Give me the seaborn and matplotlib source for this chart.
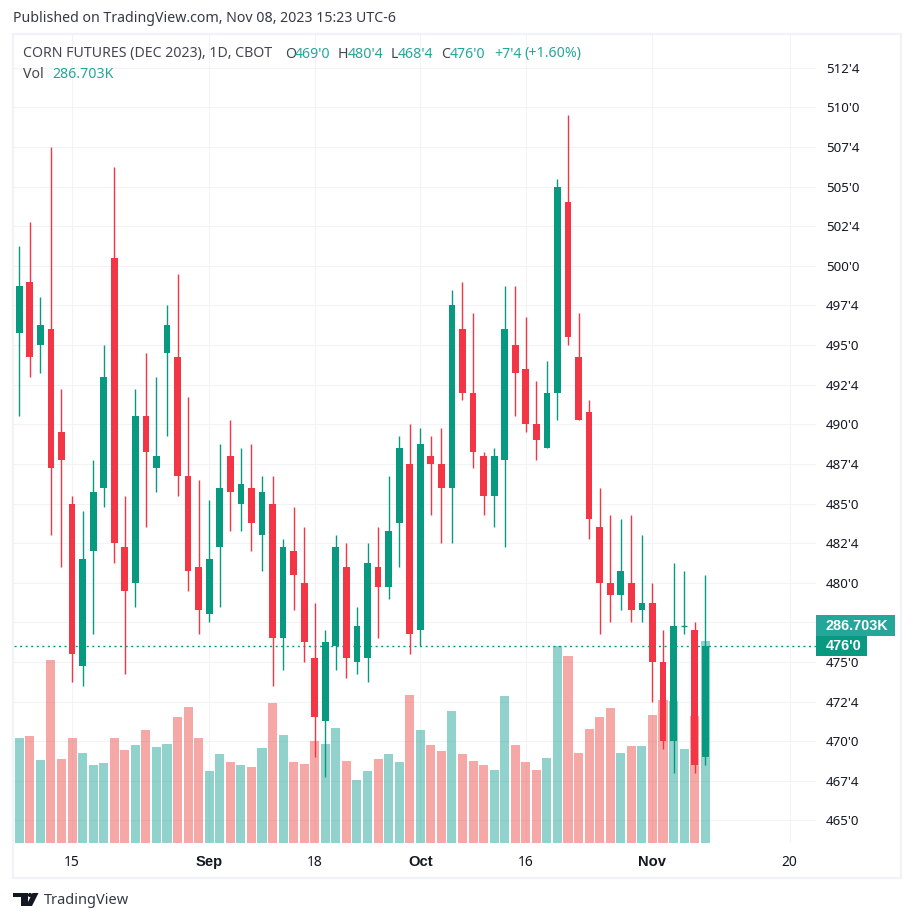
"""Corn futures Dec 2023 daily candles with volume, TradingView look."""
import matplotlib
matplotlib.use("Agg")
import matplotlib.pyplot as plt
from matplotlib.patches import Polygon, Rectangle
import numpy as np
import pandas as pd
import seaborn as sns

W, H = 914, 922
UP, DOWN = "#089981", "#F23645"
VOL_UP, VOL_DOWN = "#26A69A", "#EF5350"
GRID = "#F2F3F6"
FRAME = "#F0F3FA"
TXT = "#131722"

opens = [495.75, 499, 495, 496, 489.5, 485, 474.75, 482, 486, 500.5, 482.25, 480, 490.5, 487.25, 494.5, 494.25,
         486.75, 481, 478, 482.25, 488, 485, 486, 483, 485, 476.5, 482, 480, 475.25, 471.25, 476, 481,
         475, 475.25, 481, 479.75, 483.75, 487.5, 477, 488, 487.5, 486, 496, 492, 488, 485.5, 487.75, 495,
         493.5, 490, 488.5, 492, 504, 494.25, 490.75, 483.5, 480, 479.25, 480, 478.25, 478.75, 475, 470, 477.25,
         477, 469]
highs = [501.25, 502.75, 498, 507.5, 492.25, 485.5, 484.5, 487.75, 495, 506.25, 485.5, 492.25, 494.5, 493, 497.5, 499.5,
         491.75, 486.5, 485.25, 488.75, 490.25, 488.5, 488.75, 486.75, 486.75, 482.75, 484.75, 483.5, 478.75, 477, 483, 482.5,
         478.5, 482.5, 483.5, 486.75, 489.25, 490, 489.75, 489.25, 489.75, 498.5, 499, 497, 488.25, 488.5, 498.75, 498.75,
         496.75, 492.75, 494, 505.5, 509.5, 497, 491.5, 486, 484.25, 484, 484.25, 483, 480, 477, 481.25, 480.75,
         477.5, 480.5]
lows = [490.5, 493, 493.25, 483, 481, 473.75, 473.5, 476.75, 484.75, 481.25, 474.25, 478.5, 483.5, 485.75, 489.25, 485.5,
        479.5, 476.75, 477.5, 478.5, 483.25, 483.25, 482, 480.75, 473.5, 474.5, 478.25, 475, 469, 467.75, 474.5, 474,
        474.25, 473.75, 476.5, 479, 481, 475.5, 476, 484.25, 482.5, 482.5, 491.5, 487.25, 484.25, 483.5, 482.25, 490.5,
        489.5, 487.75, 488.5, 490.25, 495, 490.25, 482.75, 476.75, 477.5, 478.25, 477.5, 477.5, 472.5, 469.5, 468, 476.75,
        468, 468.5]
closes = [498.75, 494.25, 496.25, 487.25, 487.75, 475.5, 481.5, 485.75, 493, 482.5, 479.5, 490.5, 488.25, 488, 496.25, 486.75,
          480.75, 478.25, 481.5, 486, 485.75, 486.25, 483.75, 485.75, 476.5, 482.25, 480.5, 476.25, 471.5, 476.25, 482.25, 475.25,
          477.25, 481.25, 479.75, 483.25, 488.5, 476.75, 488.75, 487.5, 486, 497.5, 492, 488.25, 485.5, 488, 496, 493.25,
          490, 489, 492, 505, 495.5, 490.25, 484, 480, 479.25, 480.75, 478.25, 478.75, 475, 470, 477.25, 477.25,
          468.5, 476]
volumes = [149, 152, 118, 260, 119, 149, 128, 111, 114, 149, 132, 139, 160, 136, 140, 179,
           193, 149, 102, 126, 115, 111, 108, 135, 199, 153, 115, 112, 145, 140, 163, 116,
           89, 102, 119, 126, 115, 210, 160, 139, 131, 187, 126, 116, 111, 104, 209, 139,
           115, 104, 121, 280, 265, 128, 162, 179, 192, 128, 138, 138, 182, 203, 201, 133,
           180, 286.703]

price_ticks = [465, 467.5, 470, 472.5, 475, 477.5, 480, 482.5, 485, 487.5, 490, 492.5, 495, 497.5, 500, 502.5, 505, 507.5,
               510, 512.5]
price_labels = ["465'0", "467'4", "470'0", "472'4", "475'0", "", "480'0", "482'4", "485'0", "487'4", "490'0", "492'4",
                "495'0", "497'4", "500'0", "502'4", "505'0", "507'4", "510'0", "512'4"]
date_ticks = [5, 18, 28, 38, 48, 60, 73]
date_labels = ["15", "Sep", "18", "Oct", "16", "Nov", "20"]
month_labels = ["Sep", "Oct", "Nov"]
last_price = 476
BOLD_FONT = "Liberation Sans"


def fx(x):
    return x / W


def fy(y):
    return 1 - y / H


def put(x, y, s, color=TXT, size=10.2, **kw):
    return fig.text(fx(x), fy(y), s, color=color, fontsize=size, ha="left", va="center", **kw)


sns.set_theme(style="white")
plt.rcParams["font.family"] = ["Noto Sans", "DejaVu Sans"]

df = pd.DataFrame({"idx": np.arange(len(opens)), "open": opens, "high": highs, "low": lows,
                   "close": closes, "volume": volumes})
df["up"] = df["close"] >= df["open"]

fig = plt.figure(figsize=(W / 100, H / 100), dpi=100, facecolor="white")
rect = [fx(14), fy(843), fx(816 - 14), (843 - 35) / H]

# prix et grille derriere, volume au milieu, bougies au-dessus
ax = fig.add_axes(rect)
ax_vol = ax.twinx()
ax_c = ax.twinx()

ax.set_xlim(-0.5, 75.5)
ax.set_ylim(463.58, 514.56)
ax.set_xticks(date_ticks, date_labels)
ax.set_yticks(price_ticks, price_labels)
ax.yaxis.tick_right()
ax.grid(True, color=GRID, lw=0.8)
ax.tick_params(axis="y", length=0, pad=7.2, labelsize=9.6, labelcolor=TXT)
ax.tick_params(axis="x", length=0, pad=8.5, labelsize=10, labelcolor=TXT)
for lab in ax.get_xticklabels():
    if lab.get_text() in month_labels:
        lab.set_fontfamily(BOLD_FONT)
        lab.set_fontweight("bold")
        lab.set_fontsize(10.6)
for s in ax.spines.values():
    s.set_visible(False)

sns.barplot(data=df, x="idx", y="volume", hue="up", palette={True: VOL_UP, False: VOL_DOWN},
            native_scale=True, dodge=False, width=0.86, saturation=1, alpha=0.5, linewidth=0,
            legend=False, ax=ax_vol)
ax_vol.set_xlim(-0.5, 75.5)
ax_vol.set_ylim(0, 1146.8)
ax_vol.set_axis_off()

colors = [UP if u else DOWN for u in df["up"]]
ax_c.set_xlim(-0.5, 75.5)
ax_c.set_ylim(463.58, 514.56)
ax_c.set_axis_off()
ax_c.axhline(last_price, color=UP, lw=1, ls=(0, (1.5, 2.5)), zorder=1)
ax_c.vlines(df["idx"], df["low"], df["high"], colors=colors, lw=1.0, zorder=2, snap=True)
ax_c.bar(df["idx"], df["close"] - df["open"], bottom=df["open"], width=0.64, color=colors, linewidth=0, zorder=3)
doji = df[df["close"] == df["open"]]
ax_c.hlines(doji["close"], doji["idx"] - 0.32, doji["idx"] + 0.32, colors=UP, lw=1.0, zorder=3)

# cadre
fig.add_artist(Rectangle((fx(13), fy(878)), fx(901 - 13), (878 - 34) / H, fill=False, edgecolor=FRAME, lw=1.6,
                         transform=fig.transFigure))

# en-tete
put(13, 19, "Published on TradingView.com, Nov 08, 2023 15:23 UTC-6", color="#363A45")
put(23, 54, "CORN FUTURES (DEC 2023), 1D, CBOT", color="#42454F")
for x, s in [(285, "O"), (338, "H"), (391, "L"), (441, "C")]:
    put(x, 54, s, color="#42454F")
for x, s in [(295, "469'0"), (348, "480'4"), (398, "468'4"), (450, "476'0"), (494, "+7'4"), (524, "(+1.60%)")]:
    put(x, 54, s, color=VOL_UP)
put(23, 75, "Vol", color="#42454F")
put(52, 75, "286.703K", color=VOL_UP)

# etiquettes de dernier prix
fig.add_artist(Rectangle((fx(816), fy(636)), fx(895 - 816), 21 / H, facecolor=VOL_UP, edgecolor="none",
                         transform=fig.transFigure))
fig.add_artist(Rectangle((fx(816), fy(656)), fx(867 - 816), 20 / H, facecolor=UP, edgecolor="none",
                         transform=fig.transFigure))
put(825.5, 625.5, "286.703K", color="white", size=10.4, family=BOLD_FONT, weight="bold")
put(825.5, 646, "476'0", color="white", size=10.4, family=BOLD_FONT, weight="bold")

# logo et pied de page
for pts in ([(13, 893), (27.5, 893), (27.5, 906), (20.5, 906), (20.5, 897), (13, 897)],
            [(32.5, 893), (38.5, 893), (32, 906), (26, 906)]):
    fig.add_artist(Polygon([(fx(a), fy(b)) for a, b in pts], closed=True, facecolor=TXT, edgecolor="none",
                           transform=fig.transFigure))
fig.add_artist(plt.Circle((fx(30), fy(895)), 2.1 / W, facecolor=TXT, edgecolor="none", transform=fig.transFigure))
put(44, 900, "TradingView", color="#363A45", size=10.5)

fig.savefig("out.png", dpi=100)
